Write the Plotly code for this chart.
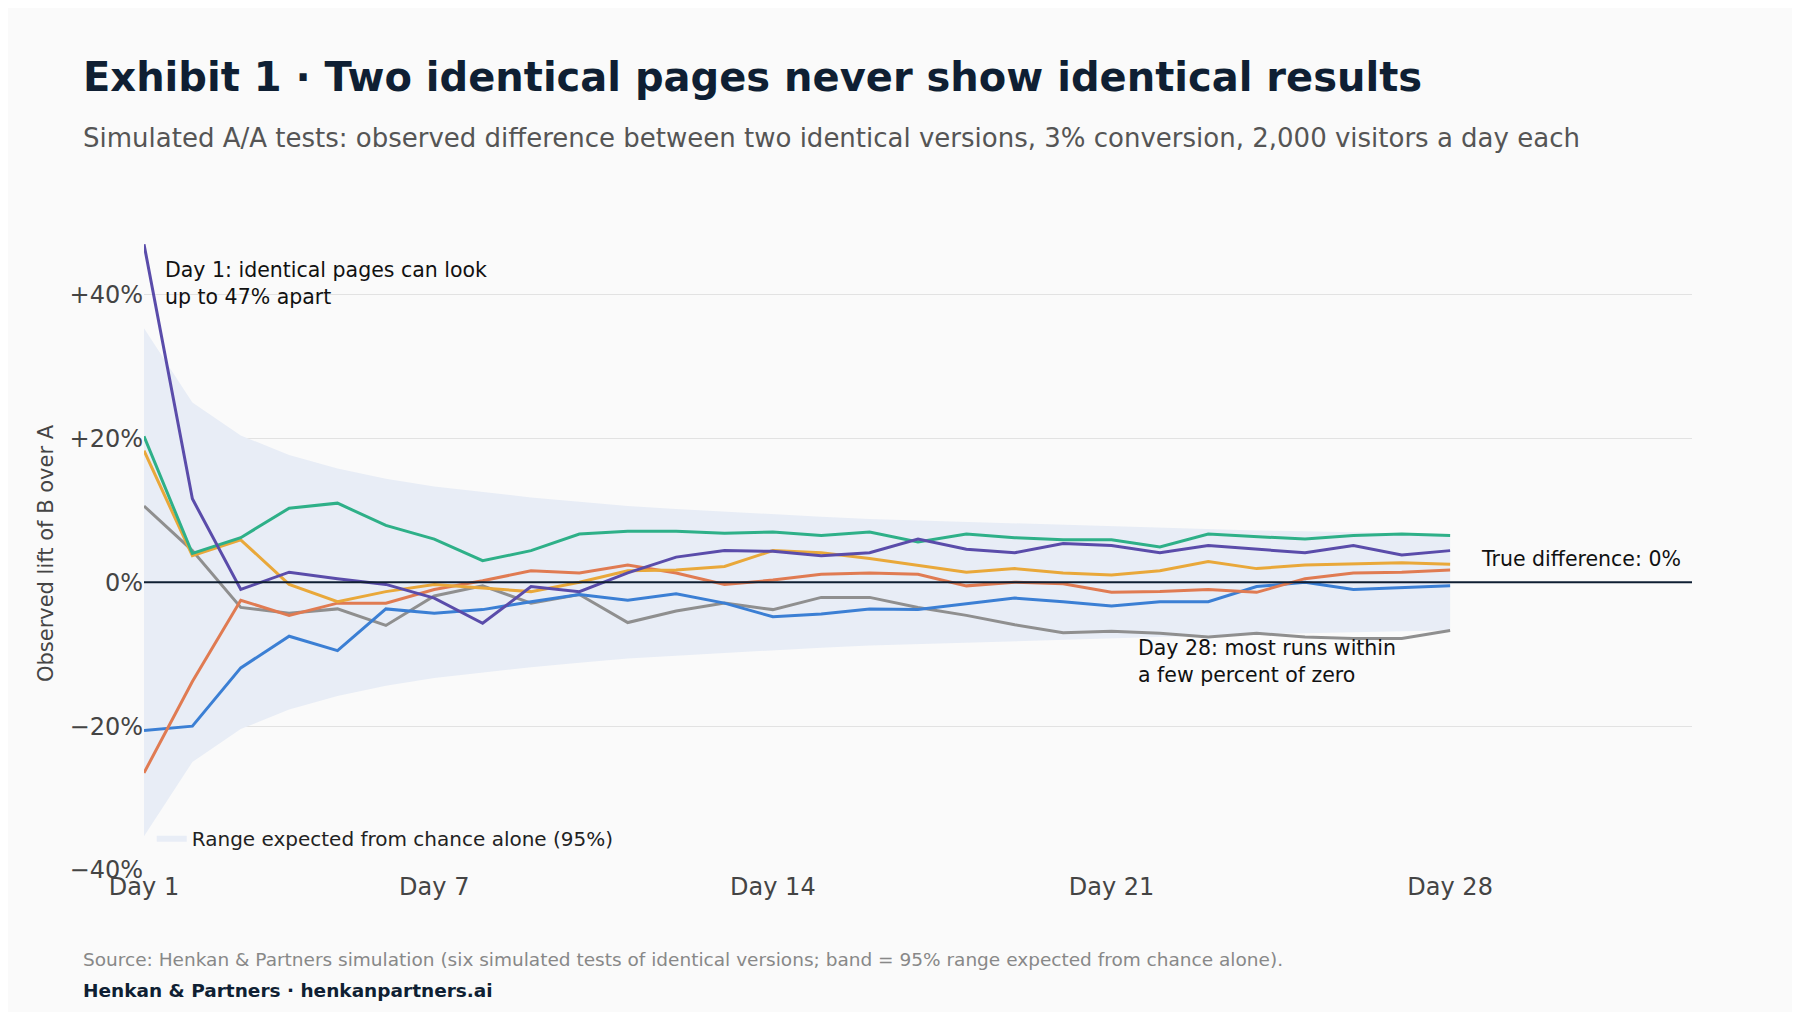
import plotly.graph_objects as go

# --- data ---
days = list(range(1, 29))
band = [35.3, 25.0, 20.4, 17.7, 15.8, 14.4, 13.3, 12.5, 11.8, 11.2, 10.6, 10.2, 9.8, 9.4,
        9.1, 8.8, 8.6, 8.3, 8.1, 7.9, 7.7, 7.5, 7.4, 7.2, 7.1, 6.9, 6.8, 6.7]
band_lo = [-v for v in band]

run_purple = [47, 11.6, -1, 1.4, 0.5, -0.3, -2.2, -5.7, -0.6, -1.3, 1.3, 3.5, 4.4, 4.3,
              3.7, 4.1, 6, 4.6, 4.1, 5.4, 5.1, 4.1, 5.1, 4.6, 4.1, 5.1, 3.8, 4.4]
run_green = [20.3, 4, 6.2, 10.3, 11, 7.9, 6, 3, 4.4, 6.7, 7.1, 7.1, 6.8, 7,
             6.5, 7, 5.6, 6.7, 6.2, 5.9, 5.9, 4.9, 6.7, 6.3, 6, 6.5, 6.7, 6.5]
run_yellow = [18.3, 3.7, 5.9, -0.3, -2.7, -1.3, -0.3, -0.8, -1.3, 0, 1.6, 1.7, 2.2, 4.4,
              4.1, 3.3, 2.4, 1.4, 1.9, 1.3, 1, 1.6, 2.9, 1.9, 2.4, 2.5, 2.7, 2.5]
run_orange = [-26.5, -13.8, -2.5, -4.6, -2.9, -2.9, -1, 0.2, 1.6, 1.3, 2.4, 1.3, -0.3, 0.3,
              1.1, 1.3, 1.1, -0.5, 0, -0.2, -1.4, -1.3, -1, -1.4, 0.5, 1.3, 1.4, 1.7]
run_blue = [-20.6, -20, -11.9, -7.5, -9.5, -3.7, -4.3, -3.8, -2.7, -1.7, -2.5, -1.6, -2.9, -4.8,
            -4.4, -3.7, -3.8, -3, -2.2, -2.7, -3.3, -2.7, -2.7, -0.6, 0, -1, -0.8, -0.5]
run_gray = [10.6, 4.4, -3.5, -4.3, -3.7, -6, -1.9, -0.5, -2.9, -1.7, -5.6, -4, -2.9, -3.8,
            -2.1, -2.1, -3.5, -4.6, -5.9, -7, -6.8, -7.1, -7.6, -7.1, -7.6, -7.8, -7.8, -6.7]

tick_days = [1, 7, 14, 21, 28]
tick_labels = ["Day 1", "Day 7", "Day 14", "Day 21", "Day 28"]
y_ticks = [-40, -20, 0, 20, 40]
y_labels = ["\u221240%", "\u221220%", "0%", "+20%", "+40%"]

runs = [(run_gray, "#8f8f8f"), (run_blue, "#3b7fd4"), (run_orange, "#e07b52"),
        (run_yellow, "#e9a83a"), (run_green, "#2eb088"), (run_purple, "#5a4caa")]

FONT = "DejaVu Sans"
fig = go.Figure()

# chance band
fig.add_trace(go.Scatter(x=days, y=band, mode="lines", line=dict(width=0),
                         showlegend=False, hoverinfo="skip"))
fig.add_trace(go.Scatter(x=days, y=band_lo, mode="lines", line=dict(width=0), fill="tonexty",
                         fillcolor="#e8edf6", name="Range expected from chance alone (95%)"))

fig.add_hline(y=0, line=dict(color="#0f1f33", width=2))

for vals, col in runs:
    fig.add_trace(go.Scatter(x=days, y=vals, mode="lines", line=dict(color=col, width=3),
                             showlegend=False))

fig.update_layout(
    width=1800, height=1012,
    paper_bgcolor="#fafafa", plot_bgcolor="#fafafa",
    margin=dict(l=136, r=116, t=229, b=150),
    font=dict(family=FONT, color="#333"),
    legend=dict(x=0.005, y=0.02, xanchor="left", yanchor="bottom", bgcolor="rgba(0,0,0,0)",
                font=dict(size=20, color="#222")),
)
fig.update_xaxes(range=[1, 33], tickvals=tick_days, ticktext=tick_labels, showgrid=False,
                 zeroline=False, tickfont=dict(size=24, color="#444"), ticks="")
fig.update_yaxes(range=[-40, 48], tickvals=y_ticks, ticktext=y_labels, showgrid=True,
                 gridcolor="#e2e2e2", zeroline=False, tickfont=dict(size=24, color="#444"),
                 title=dict(text="Observed lift of B over A", font=dict(size=21, color="#444"),
                            standoff=10))

anns = [
    dict(text="<b>Exhibit 1 · Two identical pages never show identical results</b>",
         x=-0.0408, y=1.253, font=dict(size=40, color="#0f1f33")),
    dict(text="Simulated A/A tests: observed difference between two identical versions, 3% conversion, 2,000 visitors a day each",
         x=-0.0408, y=1.156, font=dict(size=26, color="#555")),
    dict(text="Source: Henkan & Partners simulation (six simulated tests of identical versions; band = 95% range expected from chance alone).",
         x=-0.0408, y=-0.142, font=dict(size=18.5, color="#888")),
    dict(text="<b>Henkan & Partners · henkanpartners.ai</b>",
         x=-0.0408, y=-0.191, font=dict(size=18.5, color="#0f1f33")),
]
for a in anns:
    fig.add_annotation(xref="paper", yref="paper", xanchor="left", yanchor="middle",
                       showarrow=False, align="left", **a)

fig.add_annotation(x=1.4, y=41.5, xref="x", yref="y", xanchor="left", yanchor="middle",
                   showarrow=False, align="left",
                   text="Day 1: identical pages can look<br>up to 47% apart",
                   font=dict(size=20.5, color="#111"))
fig.add_annotation(x=28.6, y=3.2, xref="x", yref="y", xanchor="left", yanchor="middle",
                   showarrow=False, text="True difference: 0%", font=dict(size=20.5, color="#111"))
fig.add_annotation(x=21.5, y=-11, xref="x", yref="y", xanchor="left", yanchor="middle",
                   showarrow=False, align="left",
                   text="Day 28: most runs within<br>a few percent of zero",
                   font=dict(size=20.5, color="#111"))

fig.write_html("out.html")
